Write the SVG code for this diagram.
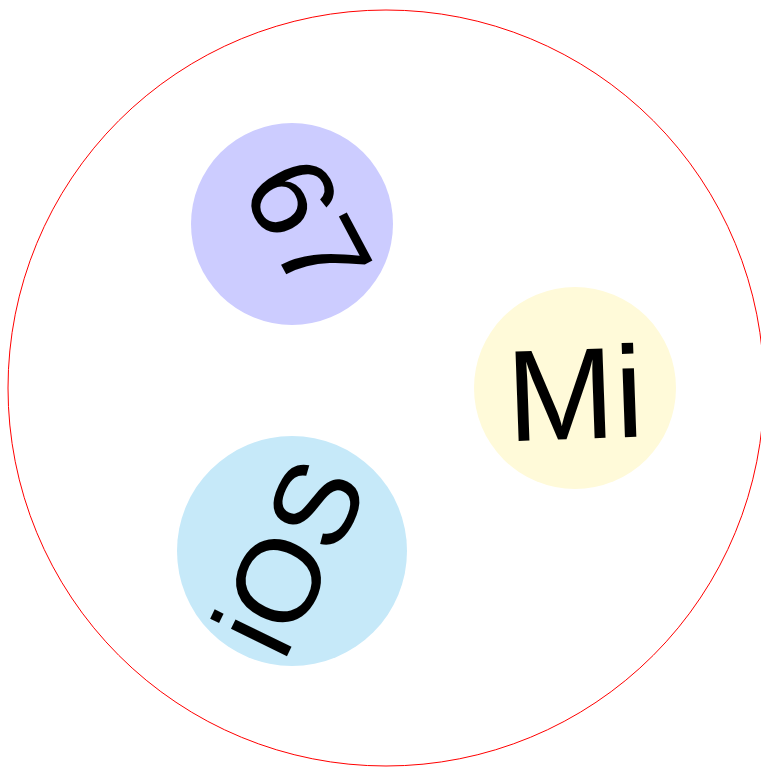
<svg xmlns="http://www.w3.org/2000/svg" width="761" height="767" viewBox="0 0 761 767">
<style>
.lbl{font-family:"Liberation Sans",Arial,sans-serif;fill:#000;text-anchor:middle}
</style>
<rect width="761" height="767" fill="#fff"/>
<g id="outer"><circle cx="386" cy="388" r="378" fill="none" stroke="#ff0000" stroke-width="1"/></g>
<g id="node-67">
<circle cx="292" cy="224" r="101" fill="#ccccff"/>
<text class="lbl" transform="translate(308,226) rotate(62)" x="0" y="42" font-size="120">67</text>
</g>
<g id="node-Mi">
<circle cx="575" cy="388" r="101" fill="#fffad9"/>
<text class="lbl" transform="translate(575,392) rotate(-2)" x="0" y="47" font-size="130">Mi</text>
</g>
<g id="node-iOS">
<circle cx="292" cy="551" r="115" fill="#c6e9f9"/>
<text class="lbl" transform="translate(288,556) rotate(-64)" x="0" y="43" font-size="118">iOS</text>
</g>
<g id="connectors"></g>
</svg>
